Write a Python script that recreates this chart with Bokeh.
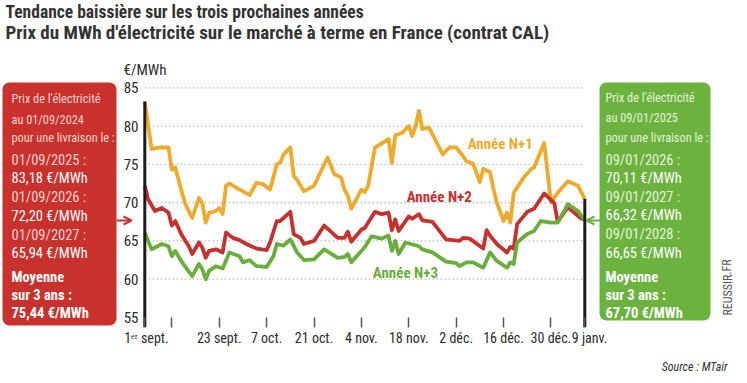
from datetime import date
from bokeh.plotting import figure
from bokeh.models import Range1d, FixedTicker, BoxAnnotation, Arrow, OpenHead, Title
from bokeh.core.properties import value
from bokeh.embed import file_html
from bokeh.resources import INLINE

# ---------------- data ----------------
ORIGINE = "2024-09-01"
FIN = "2025-01-09"

dates_n1 = ["2024-09-01", "2024-09-03", "2024-09-05", "2024-09-08", "2024-09-09", "2024-09-10",
            "2024-09-12", "2024-09-13", "2024-09-15", "2024-09-17", "2024-09-18", "2024-09-19",
            "2024-09-20", "2024-09-22", "2024-09-23", "2024-09-24", "2024-09-25", "2024-09-26",
            "2024-09-29", "2024-10-02", "2024-10-04", "2024-10-06", "2024-10-08", "2024-10-10",
            "2024-10-11", "2024-10-12", "2024-10-14", "2024-10-15", "2024-10-16", "2024-10-18",
            "2024-10-21", "2024-10-25", "2024-10-27", "2024-10-29", "2024-10-30", "2024-10-31",
            "2024-11-01", "2024-11-04", "2024-11-05", "2024-11-06", "2024-11-08", "2024-11-12",
            "2024-11-13", "2024-11-14", "2024-11-16", "2024-11-18", "2024-11-19", "2024-11-20",
            "2024-11-21", "2024-11-22", "2024-11-24", "2024-11-28", "2024-11-30", "2024-12-02",
            "2024-12-04", "2024-12-05", "2024-12-07", "2024-12-09", "2024-12-10", "2024-12-12",
            "2024-12-13", "2024-12-14", "2024-12-16", "2024-12-17", "2024-12-18", "2024-12-19",
            "2024-12-22", "2024-12-24", "2024-12-25", "2024-12-28", "2024-12-30", "2025-01-01",
            "2025-01-04", "2025-01-06", "2025-01-07", "2025-01-09"]
prix_n1 = [83.2, 77.0, 77.2, 77.2, 74.3, 74.6,
           71.3, 69.8, 68.0, 70.6, 69.9, 67.4,
           68.7, 68.9, 69.3, 68.5, 72.2, 72.5,
           71.7, 71.0, 72.6, 72.4, 71.7, 75.0,
           75.2, 76.3, 77.2, 73.5, 73.0, 71.5,
           72.2, 75.9, 73.7, 73.3, 71.7, 70.9,
           69.2, 71.7, 71.4, 72.2, 77.2, 78.3,
           75.2, 78.8, 79.1, 80.0, 78.7, 80.0,
           82.0, 79.6, 79.8, 76.3, 77.2, 77.2,
           76.1, 75.4, 75.1, 72.7, 74.4, 74.0,
           71.8, 70.0, 67.6, 68.7, 67.4, 71.3,
           73.3, 74.3, 74.6, 77.8, 70.0, 71.3,
           72.8, 72.4, 72.2, 70.5]

dates_n2 = ["2024-09-01", "2024-09-02", "2024-09-04", "2024-09-06", "2024-09-08", "2024-09-09",
            "2024-09-10", "2024-09-12", "2024-09-14", "2024-09-15", "2024-09-17", "2024-09-18",
            "2024-09-19", "2024-09-20", "2024-09-22", "2024-09-24", "2024-09-25", "2024-09-27",
            "2024-09-29", "2024-10-01", "2024-10-04", "2024-10-07", "2024-10-08", "2024-10-10",
            "2024-10-11", "2024-10-14", "2024-10-15", "2024-10-17", "2024-10-18", "2024-10-21",
            "2024-10-24", "2024-10-28", "2024-10-30", "2024-10-31", "2024-11-01", "2024-11-04",
            "2024-11-05", "2024-11-08", "2024-11-10", "2024-11-12", "2024-11-13", "2024-11-14",
            "2024-11-15", "2024-11-18", "2024-11-19", "2024-11-21", "2024-11-22", "2024-11-25",
            "2024-11-29", "2024-12-03", "2024-12-04", "2024-12-06", "2024-12-10", "2024-12-11",
            "2024-12-12", "2024-12-14", "2024-12-17", "2024-12-18", "2024-12-19", "2024-12-20",
            "2024-12-23", "2024-12-25", "2024-12-28", "2024-12-31", "2025-01-01", "2025-01-04",
            "2025-01-08", "2025-01-09"]
prix_n2 = [72.2, 70.4, 68.9, 69.3, 68.7, 67.0,
           67.6, 65.7, 64.3, 63.3, 64.8, 64.1,
           62.8, 63.7, 63.9, 63.5, 66.1, 65.4,
           65.1, 64.6, 64.0, 63.8, 64.8, 67.6,
           67.6, 68.8, 65.9, 65.4, 64.6, 65.0,
           67.0, 65.4, 65.4, 66.2, 64.9, 66.5,
           66.7, 68.8, 68.5, 68.7, 66.4, 67.8,
           66.3, 68.2, 67.9, 68.5, 67.7, 67.5,
           65.2, 65.0, 65.4, 65.3, 64.0, 66.4,
           65.7, 64.6, 63.5, 64.2, 64.0, 67.2,
           68.8, 69.2, 71.2, 69.9, 67.5, 69.4,
           67.9, 67.8]

dates_n3 = ["2024-09-01", "2024-09-03", "2024-09-06", "2024-09-08", "2024-09-09", "2024-09-10",
            "2024-09-12", "2024-09-15", "2024-09-17", "2024-09-18", "2024-09-19", "2024-09-20",
            "2024-09-22", "2024-09-24", "2024-09-26", "2024-09-29", "2024-09-30", "2024-10-02",
            "2024-10-04", "2024-10-07", "2024-10-09", "2024-10-10", "2024-10-12", "2024-10-14",
            "2024-10-16", "2024-10-18", "2024-10-21", "2024-10-24", "2024-10-28", "2024-10-30",
            "2024-10-31", "2024-11-01", "2024-11-04", "2024-11-05", "2024-11-07", "2024-11-10",
            "2024-11-12", "2024-11-13", "2024-11-14", "2024-11-15", "2024-11-17", "2024-11-21",
            "2024-11-22", "2024-11-25", "2024-11-29", "2024-12-02", "2024-12-03", "2024-12-05",
            "2024-12-07", "2024-12-10", "2024-12-12", "2024-12-14", "2024-12-17", "2024-12-18",
            "2024-12-19", "2024-12-20", "2024-12-23", "2024-12-25", "2024-12-27", "2024-12-30",
            "2025-01-01", "2025-01-04", "2025-01-07", "2025-01-09"]
prix_n3 = [66.1, 63.9, 64.6, 64.3, 63.0, 63.7,
           62.2, 60.4, 62.0, 61.3, 60.0, 61.1,
           61.7, 61.4, 63.5, 63.0, 62.2, 62.5,
           61.7, 61.6, 63.0, 64.6, 64.4, 65.2,
           63.5, 62.5, 62.6, 63.9, 62.8, 62.9,
           63.3, 62.2, 63.7, 64.2, 65.6, 65.3,
           65.7, 63.7, 65.0, 63.3, 64.8, 64.3,
           63.9, 63.5, 62.3, 62.1, 61.7, 62.2,
           62.2, 61.5, 63.5, 62.4, 61.5, 62.2,
           62.0, 64.8, 65.9, 66.3, 67.6, 67.4,
           67.4, 69.8, 68.9, 67.7]

y_ticks = [55, 60, 65, 70, 75, 80, 85]
grille_y = [60, 65, 70, 75, 80, 85]
dates_ticks = ["2024-09-01", "2024-09-09", "2024-09-23", "2024-10-07", "2024-10-21", "2024-11-04",
               "2024-11-18", "2024-12-02", "2024-12-16", "2024-12-30", "2025-01-09"]
labels_ticks = ["\u00a01ᵉʳ sept.", "", "23 sept.", "7 oct.", "21 oct.", "4 nov.", "18 nov.", "2 déc.",
                "16 déc.", "30 déc.", "\u00a0\u00a0\u00a09 janv."]

titre1 = "Tendance baissière sur les trois prochaines années"
titre2 = "Prix du MWh d'électricité sur le marché à terme en France (contrat CAL)"
unite = "€/MWh"
noms_series = ["Année N+1", "Année N+2", "Année N+3"]
dates_noms = ["2024-12-15", "2024-11-27", "2024-11-17"]
y_noms = [77.6, 70.8, 60.8]

encadre_gauche = ["Prix de l'électricité", "au 01/09/2024", "pour une livraison le :",
                  "01/09/2025 :", "83,18 €/MWh", "01/09/2026 :", "72,20 €/MWh",
                  "01/09/2027 :", "65,94 €/MWh", "Moyenne", "sur 3 ans :", "75,44 €/MWh"]
encadre_droit = ["Prix de l'électricité", "au 09/01/2025", "pour une livraison le :",
                 "09/01/2026 :", "70,11 €/MWh", "09/01/2027 :", "66,32 €/MWh",
                 "09/01/2028 :", "66,65 €/MWh", "Moyenne", "sur 3 ans :", "67,70 €/MWh"]
styles_lignes = ["h", "h", "h", "d", "v", "d", "v", "d", "v", "b", "b", "b"]
source = "Source : MTair"
site = "REUSSIR.FR"

# ---------------- layout constants (pixels on the canvas) ----------------
O = date.fromisoformat(ORIGINE)


def jours(ds):
    return [(date.fromisoformat(d) - O).days for d in ds]


FONT = "Roboto Condensed, Liberation Sans Narrow, Roboto"
C_N1 = "#EFAA2C"
C_N2 = "#C8302E"
C_N3 = "#69AE3A"
C_ROUGE = "#C9312D"
C_VERT = "#6BB23F"
TXT = "#2b2b2b"

W, H = 747, 383
FB = 327                       # frame bottom (frame spans canvas rows 0..FB, full width)
X0_PX, X1_PX = 144.3, 584.3    # where first / last date sit
Y85_PX, Y55_PX = 87.3, 317.0   # where 85 and 55 sit
d_fin = jours([FIN])[0]
kx = (X1_PX - X0_PX) / d_fin
ky = (Y55_PX - Y85_PX) / 30.0
x_rng = Range1d(-X0_PX / kx, d_fin + (W - X1_PX) / kx)
y_rng = Range1d(55 - (FB - Y55_PX) / ky, 85 + Y85_PX / ky)

p = figure(width=W, height=H, x_range=x_rng, y_range=y_rng, y_axis_location=None,
           output_backend="svg", toolbar_location=None, min_border_left=0, min_border_right=0,
           min_border_top=0, min_border_bottom=H - FB, outline_line_color=None)
p.extra_x_ranges = {"px": Range1d(0, W)}
p.extra_y_ranges = {"px": Range1d(FB, 0)}
p.background_fill_color = "white"
p.xgrid.grid_line_color = None
p.ygrid.grid_line_color = None

# x axis (ticks pointing inward, i.e. just below the 55 line)
xt = jours(dates_ticks)
p.xaxis.ticker = FixedTicker(ticks=xt)
p.xaxis.major_label_overrides = {t: l for t, l in zip(xt, labels_ticks)}
p.xaxis.axis_line_color = None
p.xaxis.minor_tick_line_color = None
p.xaxis.major_tick_in = 10
p.xaxis.major_tick_out = 0
p.xaxis.major_tick_line_color = "#555555"
p.xaxis.major_tick_line_width = 1.5
p.xaxis.major_label_text_font = FONT
p.xaxis.major_label_text_font_size = "14px"
p.xaxis.major_label_text_color = TXT
p.xaxis.major_label_standoff = 2

p.add_layout(Title(text=source, align="right", offset=20, standoff=18, vertical_align="bottom",
                   text_font=FONT, text_font_size="12px", text_font_style="italic",
                   text_color="#333333"), "below")

# dotted horizontal grid, only over the chart dates
p.segment(x0=[0] * len(grille_y), x1=[d_fin] * len(grille_y), y0=grille_y, y1=grille_y,
          line_color="#9c9c9c", line_dash="1 3", line_width=1.3)

# y tick labels, placed through the y scale
p.text(x=[138] * len(y_ticks), y=y_ticks, text=[str(v) for v in y_ticks], x_range_name="px",
       text_align="right", text_baseline="middle", text_font=value(FONT), text_font_size="15px",
       text_color=TXT)

# series
for ds, ys, c in [(dates_n1, prix_n1, C_N1), (dates_n2, prix_n2, C_N2), (dates_n3, prix_n3, C_N3)]:
    p.line(jours(ds), ys, line_color=c, line_width=3.8, line_join="round")

# black markers at start and end dates
p.segment(x0=[0, d_fin], x1=[0, d_fin], y0=[prix_n1[0], prix_n1[-1]], y1=[y_rng.start] * 2,
          line_color="#1c1c1c", line_width=3)

# series names
p.text(x=jours(dates_noms), y=y_noms, text=noms_series, text_align="center", text_baseline="middle",
       text_font=value(FONT), text_font_size="15px", text_font_style="bold",
       text_color=[C_N1, C_N2, C_N3])


def txt(x, y, t, **kw):
    p.text(x=[x], y=[y], text=[t], x_range_name="px", y_range_name="px", text_font=value(FONT), **kw)


# titles
txt(5, 11, titre1, text_font_size="17.5px", text_font_style="bold", text_color="#333333", text_baseline="middle")
txt(5, 32, titre2, text_font_size="19px", text_font_style="bold", text_color="#333333", text_baseline="middle")
txt(123, 69, unite, text_font_size="15px", text_color=TXT, text_baseline="middle")

# side panels
rows_g = [98, 119, 137, 160, 178, 197, 216, 235, 253, 277, 295, 313]
rows_d = [97, 117, 137, 160, 178, 197, 215, 234, 253, 277, 295, 313]


def panneau(left, right, top, bottom, fond, clair, lignes, tx, rows):
    p.add_layout(BoxAnnotation(left=left, right=right, top=top, bottom=bottom, x_range_name="px",
                               y_range_name="px", fill_color=fond, fill_alpha=1, line_color=None,
                               border_radius=7, level="underlay"))
    for t, k, y in zip(lignes, styles_lignes, rows):
        if k == "h":
            txt(tx, y, t, text_font_size="12.3px", text_color=clair, text_baseline="middle")
        elif k == "d":
            txt(tx, y, t, text_font_size="14.5px", text_color=clair, text_baseline="middle")
        elif k == "v":
            txt(tx, y, t, text_font_size="14.5px", text_color="white", text_baseline="middle")
        else:
            txt(tx, y, t, text_font_size="14.5px", text_font_style="bold", text_color="white",
                text_baseline="middle")


panneau(2, 116, 82, 325, C_ROUGE, "#F7D3CF", encadre_gauche, 11, rows_g)
panneau(599, 710, 82, 320, C_VERT, "#E6F3DA", encadre_droit, 605, rows_d)

p.add_layout(Arrow(end=OpenHead(size=8, line_color=C_ROUGE, line_width=2), x_start=116, y_start=220,
                   x_end=131, y_end=220, x_range_name="px", y_range_name="px",
                   line_color=C_ROUGE, line_width=2))
p.add_layout(Arrow(end=OpenHead(size=8, line_color=C_VERT, line_width=2), x_start=600, y_start=220,
                   x_end=586, y_end=220, x_range_name="px", y_range_name="px",
                   line_color=C_VERT, line_width=2))

txt(727, 287, site, text_font_size="12px", text_color="#555555", angle=1.5708, text_align="center",
    text_baseline="middle")

open("out.html", "w").write(file_html(p, INLINE))
